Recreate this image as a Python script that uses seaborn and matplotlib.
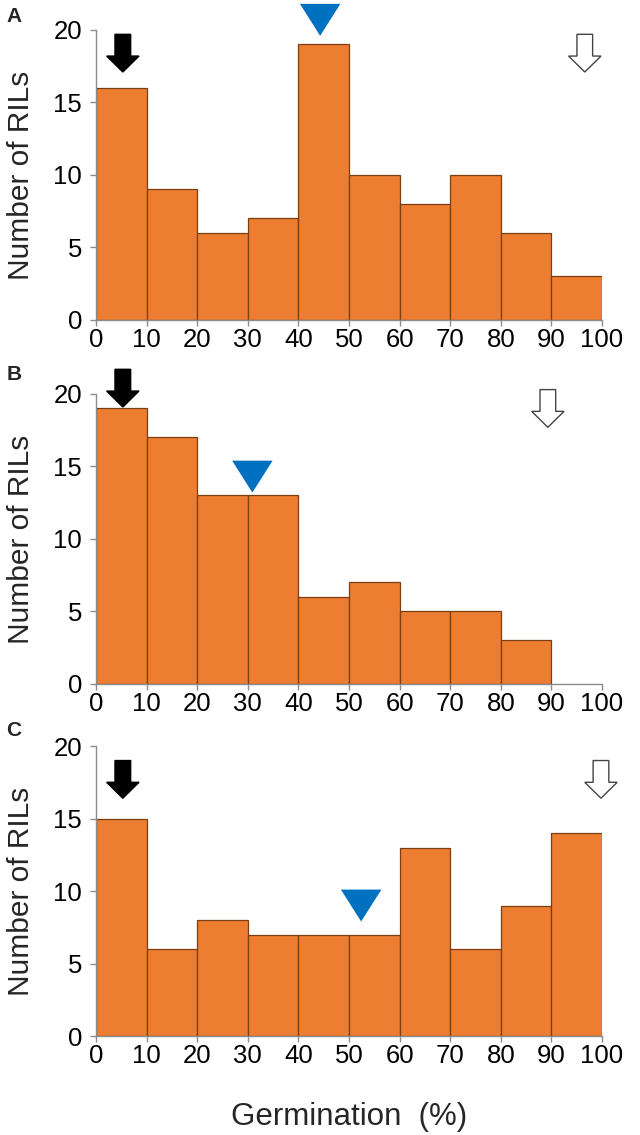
import numpy as np
import seaborn as sns
import matplotlib.pyplot as plt
from matplotlib.patches import Polygon

# germination bins (%) and RIL counts per panel
bin_edges = [0, 10, 20, 30, 40, 50, 60, 70, 80, 90, 100]
panels = ["A", "B", "C"]
counts_a = [16, 9, 6, 7, 19, 10, 8, 10, 6, 3]
counts_b = [19, 17, 13, 13, 6, 7, 5, 5, 3, 0]
counts_c = [15, 6, 8, 7, 7, 7, 13, 6, 9, 14]

# marker positions (germination %, tip height)
black_x = [5.3, 5.3, 5.3]
black_tip = [17.1, 19.1, 16.4]
white_x = [96.6, 89.3, 99.8]
white_tip = [17.1, 17.7, 16.4]
mean_x = [44.3, 30.9, 52.4]
mean_tip = [19.6, 13.2, 7.9]

sns.set_theme(style="ticks")
plt.rcParams["font.family"] = ["Liberation Sans", "DejaVu Sans"]

bar_color = "#ED7D31"
edge_color = "#7A3E12"
axis_grey = "#8C8C8C"


def down_arrow(ax, x, tip, face, edge):
    # block arrow pointing down, drawn in data units
    sw, hw, hl, length = 1.55, 3.2, 1.1, 2.6
    top = tip + length
    neck = tip + hl
    pts = [(x - sw, top), (x + sw, top), (x + sw, neck), (x + hw, neck),
           (x, tip), (x - hw, neck), (x - sw, neck)]
    ax.add_patch(Polygon(pts, closed=True, facecolor=face, edgecolor=edge,
                         linewidth=1.0, clip_on=False, zorder=5))


def mean_marker(ax, x, tip):
    half, height = 4.0, 2.2
    pts = [(x - half, tip + height), (x + half, tip + height), (x, tip)]
    ax.add_patch(Polygon(pts, closed=True, facecolor="#0070C0",
                         edgecolor="none", clip_on=False, zorder=5))


fig = plt.figure(figsize=(6.4, 11.35), dpi=100)
bottoms = [0.7181, 0.3974, 0.0872]
all_counts = [counts_a, counts_b, counts_c]
mids = [(bin_edges[i] + bin_edges[i + 1]) / 2 for i in range(len(bin_edges) - 1)]

for i, (label, counts) in enumerate(zip(panels, all_counts)):
    ax = fig.add_axes([0.15, bottoms[i], 0.7906, 0.2555])
    sns.histplot(x=mids, weights=counts, bins=bin_edges, ax=ax,
                 color=bar_color, edgecolor=edge_color, linewidth=0.9, alpha=1)
    for p in ax.patches:
        if p.get_height() == 0:
            p.set_linewidth(0)

    ax.set_xlim(0, 100)
    ax.set_ylim(0, 20)
    ax.set_xticks(bin_edges)
    ax.set_yticks([0, 5, 10, 15, 20])
    sns.despine(ax=ax)
    for s in ["left", "bottom"]:
        ax.spines[s].set_color(axis_grey)
        ax.spines[s].set_linewidth(1.0)
    ax.tick_params(axis="both", colors=axis_grey, labelcolor="black",
                   labelsize=18.5, length=4, width=1.0)
    ax.tick_params(axis="x", pad=2)
    ax.tick_params(axis="y", pad=6)
    ax.set_ylabel("Number of RILs", fontsize=21.5, labelpad=13)
    ax.set_xlabel("")

    down_arrow(ax, black_x[i], black_tip[i], "black", "black")
    down_arrow(ax, white_x[i], white_tip[i], "white", "#444444")
    mean_marker(ax, mean_x[i], mean_tip[i])

    fig.text(14 / 640, 1 - (17 + 357 * i) / 1135, label, fontsize=15,
             fontweight="bold", ha="center", va="center")

ax.set_xlabel("Germination  (%)", fontsize=22.5, labelpad=24)

fig.savefig("out.png", dpi=100)
